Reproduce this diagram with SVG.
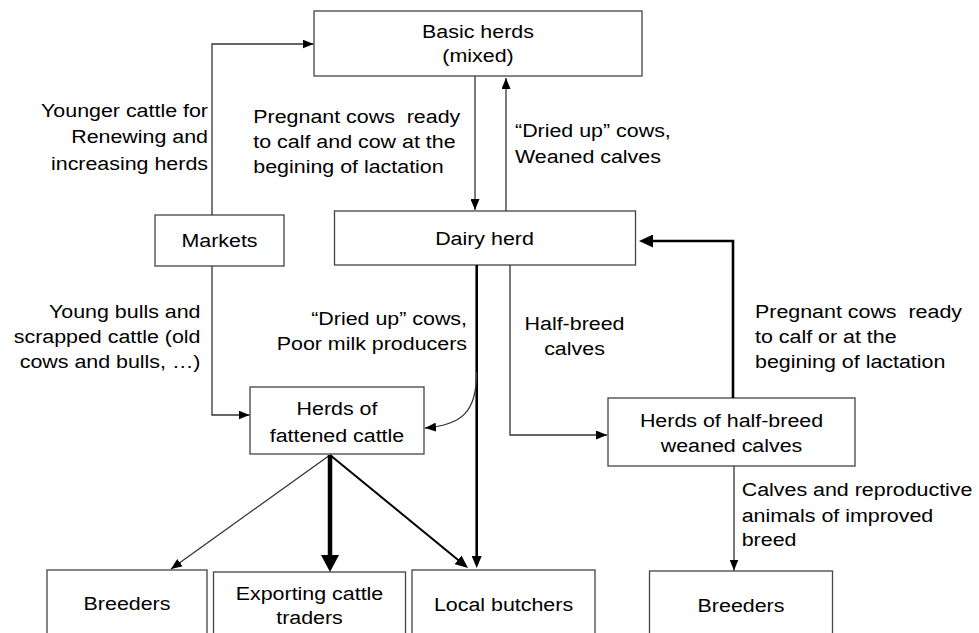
<svg xmlns="http://www.w3.org/2000/svg" width="979" height="633" viewBox="0 0 979 633">
<style>
.box{fill:#fff;stroke:#444;stroke-width:1.3}
.t{font-family:"Liberation Sans",Arial,sans-serif;font-size:18px;fill:#000;white-space:pre}
.m{text-anchor:middle}
.e{text-anchor:end}
.thin{fill:none;stroke:#333;stroke-width:1.3}
.med{fill:none;stroke:#000;stroke-width:2}
.bold{fill:none;stroke:#000;stroke-width:2.6}
.heavy{fill:none;stroke:#000;stroke-width:4.5}
</style>
<defs>
<marker id="ah" markerUnits="userSpaceOnUse" markerWidth="11" markerHeight="9" refX="11" refY="4.5" orient="auto"><path d="M0,0 L11,4.5 L0,9 z" fill="#000"/></marker>
<marker id="am" markerUnits="userSpaceOnUse" markerWidth="13" markerHeight="11" refX="3" refY="5.5" orient="auto"><path d="M0,0 L13,5.5 L0,11 z" fill="#000"/></marker>
<marker id="ab" markerUnits="userSpaceOnUse" markerWidth="14" markerHeight="13" refX="4" refY="6.5" orient="auto"><path d="M0,0 L14,6.5 L0,13 z" fill="#000"/></marker>
<marker id="av" markerUnits="userSpaceOnUse" markerWidth="12" markerHeight="10" refX="4" refY="5" orient="auto"><path d="M0,0 L12,5 L0,10 z" fill="#000"/></marker>
<marker id="ax" markerUnits="userSpaceOnUse" markerWidth="17" markerHeight="18" refX="5" refY="9" orient="auto"><path d="M0,0 L17,9 L0,18 z" fill="#000"/></marker>
</defs>

<g id="basic"><rect class="box" x="314" y="11" width="328" height="65"/>
<g transform="translate(478,0) scale(1.19,1)"><text class="t m" x="0" y="37.7">Basic herds</text><text class="t m" x="0" y="62.5">(mixed)</text></g></g>

<g id="markets"><rect class="box" x="155" y="215" width="129" height="51"/>
<g transform="translate(219.5,0) scale(1.19,1)"><text class="t m" x="0" y="247.5">Markets</text></g></g>

<g id="dairy"><rect class="box" x="334.5" y="211" width="301" height="54"/>
<g transform="translate(484.5,0) scale(1.19,1)"><text class="t m" x="0" y="245">Dairy herd</text></g></g>

<g id="fattened"><rect class="box" x="250" y="387" width="174" height="67"/>
<g transform="translate(337,0) scale(1.19,1)"><text class="t m" x="0" y="415">Herds of</text><text class="t m" x="0" y="442">fattened cattle</text></g></g>

<g id="halfbreed"><rect class="box" x="608" y="398" width="247" height="68"/>
<g transform="translate(731.5,0) scale(1.19,1)"><text class="t m" x="0" y="426.7">Herds of half-breed</text><text class="t m" x="0" y="452.3">weaned calves</text></g></g>

<g id="breeders1"><rect class="box" x="47" y="570" width="160" height="80"/>
<g transform="translate(127,0) scale(1.19,1)"><text class="t m" x="0" y="610">Breeders</text></g></g>

<g id="exporters"><rect class="box" x="213.5" y="572" width="192" height="80"/>
<g transform="translate(309.5,0) scale(1.19,1)"><text class="t m" x="0" y="600">Exporting cattle</text><text class="t m" x="0" y="624">traders</text></g></g>

<g id="butchers"><rect class="box" x="412" y="570" width="183" height="80"/>
<g transform="translate(503.5,0) scale(1.19,1)"><text class="t m" x="0" y="610.7">Local butchers</text></g></g>

<g id="breeders2"><rect class="box" x="649.5" y="571" width="183" height="80"/>
<g transform="translate(741,0) scale(1.19,1)"><text class="t m" x="0" y="612">Breeders</text></g></g>

<g id="connectors">
<path class="thin" d="M212,215 V44 H313.5" marker-end="url(#ah)"/>
<path class="thin" d="M212,266 V415 H249.5" marker-end="url(#ah)"/>
<path class="thin" d="M475,76 V210" marker-end="url(#ah)"/>
<path class="thin" d="M506,211 V78" marker-end="url(#ah)"/>
<path class="bold" d="M476.7,265 V560" marker-end="url(#av)"/>
<path class="thin" d="M476.7,372 C476.7,412 462,425 425,428" marker-end="url(#ah)"/>
<path class="thin" d="M510,265 V435 H607" marker-end="url(#ah)"/>
<path class="bold" d="M733,398 V241 H649" marker-end="url(#ab)"/>
<path class="thin" d="M734,466 V570.5" marker-end="url(#ah)"/>
<path class="thin" d="M330,455 L171,569" marker-end="url(#ah)"/>
<path class="heavy" d="M330,455 V560" marker-end="url(#ax)"/>
<path class="med" d="M330,455 L460.3,561.7" marker-end="url(#am)"/>
</g>

<g id="labels">
<g transform="translate(208,0) scale(1.19,1)"><text class="t e" x="0" y="117">Younger cattle for</text><text class="t e" x="0" y="143.5">Renewing and</text><text class="t e" x="0" y="170">increasing herds</text></g>
<g transform="translate(253.3,0) scale(1.19,1)"><text class="t" x="0" y="123.3">Pregnant cows  ready</text><text class="t" x="0" y="148.3">to calf and cow at the</text><text class="t" x="0" y="173.3">begining of lactation</text></g>
<g transform="translate(515,0) scale(1.19,1)"><text class="t" x="0" y="136.7">“Dried up” cows,</text><text class="t" x="0" y="163">Weaned calves</text></g>
<g transform="translate(200.5,0) scale(1.19,1)"><text class="t e" x="0" y="318.3">Young bulls and</text><text class="t e" x="0" y="343.3">scrapped cattle (old</text><text class="t e" x="0" y="368.3">cows and bulls, …)</text></g>
<g transform="translate(467,0) scale(1.19,1)"><text class="t e" x="0" y="325">“Dried up” cows,</text><text class="t e" x="0" y="350">Poor milk producers</text></g>
<g transform="translate(574.5,0) scale(1.19,1)"><text class="t m" x="0" y="330">Half-breed</text><text class="t m" x="0" y="355">calves</text></g>
<g transform="translate(755,0) scale(1.19,1)"><text class="t" x="0" y="318.3">Pregnant cows  ready</text><text class="t" x="0" y="343.3">to calf or at the</text><text class="t" x="0" y="368.3">begining of lactation</text></g>
<g transform="translate(741.7,0) scale(1.19,1)"><text class="t" x="0" y="496">Calves and reproductive</text><text class="t" x="0" y="521.7">animals of improved</text><text class="t" x="0" y="546">breed</text></g>
</g>
</svg>
